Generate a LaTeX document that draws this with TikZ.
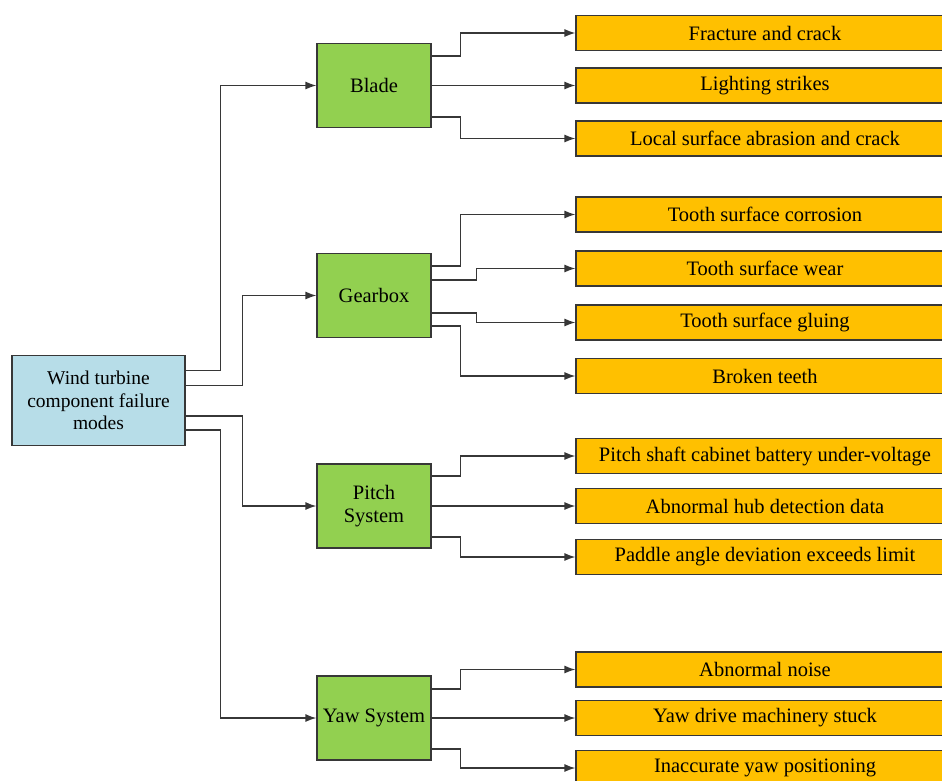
\documentclass[tikz,border=0pt]{standalone}
\usepackage{fontspec}
\setmainfont{Liberation Serif}
\usetikzlibrary{arrows.meta,positioning}
\definecolor{rootfill}{RGB}{183,221,232}
\definecolor{compfill}{RGB}{146,208,80}
\definecolor{modefill}{RGB}{255,192,0}
\definecolor{edge}{RGB}{55,55,55}
\tikzset{
  box/.style={draw=edge,line width=1.1pt,align=center,inner sep=0pt,
    font=\fontsize{20.5}{23}\selectfont},
  rootbox/.style={box,fill=rootfill,minimum width=173pt,minimum height=90pt,
    font=\fontsize{19.5}{22.5}\selectfont},
  compbox/.style={box,fill=compfill,minimum width=114pt,minimum height=84pt},
  modebox/.style={box,fill=modefill,minimum width=378pt,minimum height=35pt},
  link/.style={draw=edge,line width=1.5pt,-{Latex[length=11pt,width=8pt]}}
}
\begin{document}
\begin{tikzpicture}[x=1pt,y=-1pt]
\useasboundingbox (0,0) rectangle (942,781);
% root
\node[rootbox] (root) at (98.5,400.5) {Wind turbine\\component failure\\modes};
% components
\node[compbox] (blade) at (374,85.5) {Blade};
\node[compbox] (gear) at (374,295.5) {Gearbox};
\node[compbox] (pitch) at (374,506) {Pitch\\System};
\node[compbox] (yaw) at (374,718) {Yaw System};
% failure modes (the boxes run on past the right edge)
\node[modebox] (b1) at (765,33) {Fracture and crack};
\node[modebox] (b2) at (765,85.5) {Lighting strikes};
\node[modebox] (b3) at (765,138.5) {Local surface abrasion and crack};
\node[modebox] (g1) at (765,214.5) {Tooth surface corrosion};
\node[modebox] (g2) at (765,268.5) {Tooth surface wear};
\node[modebox] (g3) at (765,322.5) {Tooth surface gluing};
\node[modebox] (g4) at (765,376) {Broken teeth};
\node[modebox] (p1) at (765,456) {Pitch shaft cabinet battery under-voltage};
\node[modebox] (p2) at (765,506) {Abnormal hub detection data};
\node[modebox] (p3) at (765,557) {Paddle angle deviation exceeds limit};
\node[modebox] (y1) at (765,669.5) {Abnormal noise};
\node[modebox] (y2) at (765,718) {Yaw drive machinery stuck};
\node[modebox] (y3) at (765,768) {Inaccurate yaw positioning};
% root to components (yshift is measured upwards)
\draw[link] ([yshift=30]root.east) -- ++(35,0) |- (blade.west);
\draw[link] ([yshift=15]root.east) -- ++(57,0) |- (gear.west);
\draw[link] ([yshift=-15.5]root.east) -- ++(57,0) |- (pitch.west);
\draw[link] ([yshift=-29.5]root.east) -- ++(35,0) |- (yaw.west);
% blade
\draw[link] ([yshift=29.5]blade.east) -- ++(29,0) |- (b1.west);
\draw[link] (blade.east) -- (b2.west);
\draw[link] ([yshift=-31.5]blade.east) -- ++(29,0) |- (b3.west);
% gearbox
\draw[link] ([yshift=29.5]gear.east) -- ++(29,0) |- (g1.west);
\draw[link] ([yshift=15.5]gear.east) -- ++(45,0) |- (g2.west);
\draw[link] ([yshift=-17.5]gear.east) -- ++(45,0) |- (g3.west);
\draw[link] ([yshift=-30.5]gear.east) -- ++(29,0) |- (g4.west);
% pitch system
\draw[link] ([yshift=30]pitch.east) -- ++(29,0) |- (p1.west);
\draw[link] (pitch.east) -- (p2.west);
\draw[link] ([yshift=-31]pitch.east) -- ++(29,0) |- (p3.west);
% yaw system
\draw[link] ([yshift=29]yaw.east) -- ++(29,0) |- (y1.west);
\draw[link] (yaw.east) -- (y2.west);
\draw[link] ([yshift=-31]yaw.east) -- ++(29,0) |- (y3.west);
\end{tikzpicture}
\end{document}
